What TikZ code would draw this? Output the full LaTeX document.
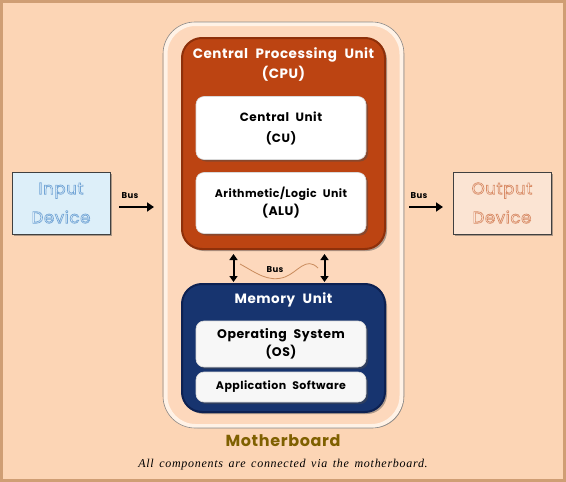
\documentclass[tikz,border=0pt]{standalone}
\usepackage{fontspec}
\setmainfont{Poppins}[LetterSpace=4,WordSpace=2.2]
\newfontfamily\capfont{Liberation Serif}[LetterSpace=6,WordSpace=1.5]
\usetikzlibrary{shadows,arrows.meta}
\definecolor{bg}{HTML}{FCD5B5}
\definecolor{bgframe}{HTML}{CF9E74}
\definecolor{mbfill}{HTML}{FDD8BC}
\definecolor{mbedge}{HTML}{FFF2E6}
\definecolor{cpufill}{HTML}{BC4412}
\definecolor{cpuedge}{HTML}{8E300A}
\definecolor{memfill}{HTML}{17346F}
\definecolor{memedge}{HTML}{0D2152}
\definecolor{infill}{HTML}{DDEFF9}
\definecolor{intext}{HTML}{EEF7FD}
\definecolor{outfill}{HTML}{FBE4D3}
\definecolor{outtext}{HTML}{FDF1E8}
\definecolor{mbtext}{HTML}{7F6000}
\definecolor{wave}{HTML}{C98B5C}
% outlined text: #1 = stroke colour as PDF RGB triple
\newcommand\strokedtext[2]{\special{pdf:code #1 RG 2 Tr 0.7 w}#2\special{pdf:code 0 Tr}}
\tikzset{
  shad/.style={drop shadow={shadow xshift=2pt,shadow yshift=-2pt,opacity=0.45,fill=black!70}},
  mbbox/.style={shad,rounded corners=30pt,fill=mbfill,draw=mbedge,line width=4pt,inner sep=0pt},
  unitbox/.style={shad,rounded corners=20pt,line width=2pt,inner sep=0pt},
  whitebox/.style={shad,rounded corners=8pt,fill=white,draw=black!15,line width=0.6pt,inner sep=0pt,
     minimum width=170pt,font=\fontsize{12}{21}\selectfont\bfseries,align=center},
  devbox/.style={shad,draw=black!75,line width=0.8pt,minimum width=98pt,minimum height=62pt,inner sep=0pt,
     align=center,font=\fontsize{16.5}{29}\selectfont},
  title/.style={text=white,font=\fontsize{13.5}{20}\selectfont\bfseries,align=center},
  buslabel/.style={font=\fontsize{8.5}{10}\selectfont\bfseries},
  busarrow/.style={-{Triangle[length=7pt,width=9pt]},line width=2.2pt},
  dbl/.style={{Triangle[length=6pt,width=8pt]}-{Triangle[length=6pt,width=8pt]},line width=2pt}
}
\begin{document}
\begin{tikzpicture}[x=1pt,y=-1pt]
\useasboundingbox (0,0) rectangle (566,482);
\fill[bg] (0,0) rectangle (566,482);
\draw[bgframe,line width=3pt] (1.5,1.5) rectangle (564.5,480.5);
% motherboard
\node[mbbox,minimum width=236pt,minimum height=402pt] (mb) at (283.5,225) {};
\draw[black!45,line width=0.6pt,rounded corners=32pt] (163,22) rectangle (404,428);
% CPU
\node[unitbox,fill=cpufill,draw=cpuedge,minimum width=203pt,minimum height=211pt] (cpu) at (283.5,143.5) {};
\node[title] (cputitle) at (283.5,65) {Central Processing Unit\\(CPU)};
\node[whitebox,minimum height=63pt] (cu) at (281,128) {Central Unit\\(CU)};
\node[whitebox,minimum height=61pt,font=\fontsize{11}{18}\selectfont\bfseries] (alu) at (281,203) {Arithmetic/Logic Unit\\{\fontsize{12.5}{13}\selectfont (ALU)}};
% Memory
\node[unitbox,fill=memfill,draw=memedge,minimum width=203pt,minimum height=128pt] (mem) at (283.5,348) {};
\node[title,font=\fontsize{13.5}{16}\selectfont\bfseries] (memtitle) at (283.5,300) {Memory Unit};
\node[whitebox,minimum height=46pt,fill=black!3,font=\fontsize{12.5}{18}\selectfont\bfseries] (os) at (281,344) {Operating System\\(OS)};
\node[whitebox,minimum height=30pt,fill=black!3,font=\fontsize{11}{12}\selectfont\bfseries] (app) at (281,387) {Application Software};
% bus between CPU and memory
\coordinate (c1) at (233.5,254);
\coordinate (m1) at (233.5,282);
\coordinate (c2) at (324.5,254);
\coordinate (m2) at (324.5,282);
\draw[dbl] (c1) -- (m1);
\draw[dbl] (c2) -- (m2);
\coordinate (w1) at (240,264);
\coordinate (w2) at (318,268);
\draw[wave,line width=0.8pt] (w1) .. controls (255,272) and (268,283) .. (285,277) .. controls (298,272) and (306,256) .. (w2);
\node[buslabel] (busmid) at (275,270) {Bus};
% devices
\node[devbox,fill=infill,text=intext] (in) at (61,203) {\strokedtext{0.45 0.65 0.84}{Input}\\\strokedtext{0.45 0.65 0.84}{Device}};
\node[devbox,fill=outfill,text=outtext] (out) at (502,203) {\strokedtext{0.85 0.55 0.40}{Output}\\\strokedtext{0.85 0.55 0.40}{Device}};
\coordinate (a1) at (119,207);
\coordinate (a2) at (154,207);
\coordinate (b1) at (409,207);
\coordinate (b2) at (443,207);
\draw[busarrow] (a1) -- (a2);
\draw[busarrow] (b1) -- (b2);
\node[buslabel] (busin) at (130,196) {Bus};
\node[buslabel] (busout) at (419,196) {Bus};
% captions
\node[text=mbtext,font=\fontsize{16}{20}\selectfont\bfseries] (mblabel) at (283,441) {Motherboard};
\node[font=\capfont\itshape\fontsize{12}{14}\selectfont] (caption) at (283,465) {All components are connected via the motherboard.};
\end{tikzpicture}
\end{document}
